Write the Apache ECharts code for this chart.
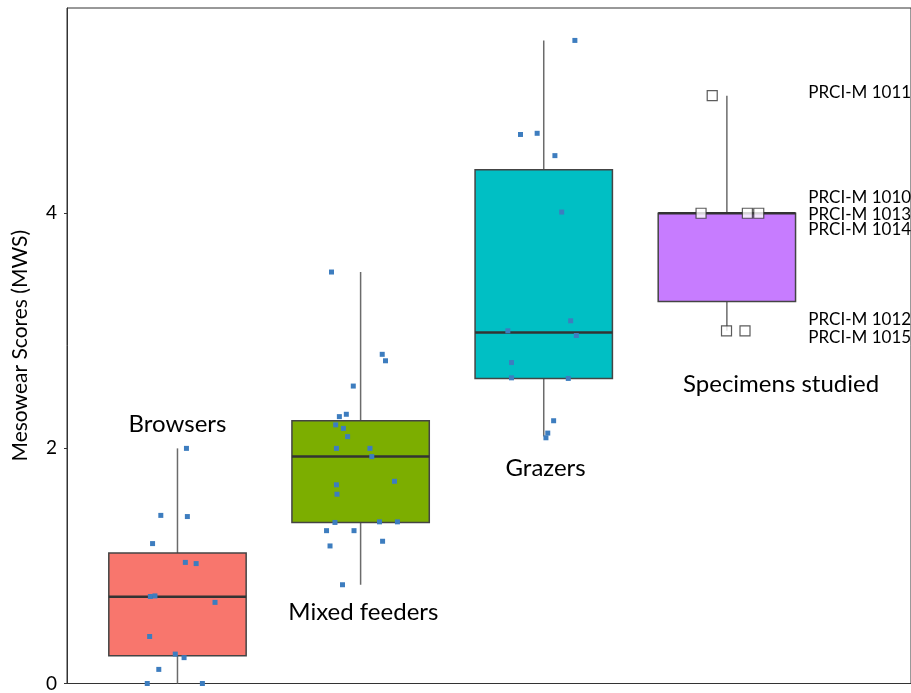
<!DOCTYPE html>
<html>
<head>
<meta charset="utf-8">
<script src="https://cdn.jsdelivr.net/npm/echarts@6/dist/echarts.min.js"></script>
<style>
  html, body { margin: 0; padding: 0; background: #fff; }
  #chart { width: 911px; height: 693px; }
</style>
</head>
<body>
<div id="chart"></div>
<script>
// Diet groups, in axis order (1..4)
const categories = ['Browsers', 'Mixed feeders', 'Grazers', 'Specimens studied'];

// Box summaries: [lower whisker, Q1, median, Q3, upper whisker]
const browsersBox  = [0.00, 0.235, 0.737, 1.11, 2.00];
const mixedBox     = [0.84, 1.37, 1.93, 2.235, 3.50];
const grazersBox   = [2.10, 2.595, 2.985, 4.37, 5.47];
const specimensBox = [3.00, 3.25, 4.00, 4.00, 5.00];

// Individual species mesowear scores and their horizontal jitter
const browsersScores  = [2.00, 1.43, 1.42, 1.19, 1.03, 1.02, 0.74, 0.745, 0.69, 0.40, 0.25, 0.22, 0.12, 0.00, 0.00];
const browsersJitter  = [0.049, -0.091, 0.054, -0.136, 0.043, 0.102, -0.148, -0.123, 0.205, -0.152, -0.012, 0.036, -0.102, -0.165, 0.136];

const mixedScores = [3.50, 2.80, 2.745, 2.53, 2.29, 2.27, 2.20, 2.17, 2.10, 2.00, 2.00, 1.93, 1.72, 1.69, 1.61, 1.37, 1.375, 1.375, 1.30, 1.30, 1.21, 1.17, 0.84];
const mixedJitter = [-0.159, 0.118, 0.136, -0.040, -0.078, -0.116, -0.136, -0.094, -0.071, -0.132, 0.051, 0.061, 0.185, -0.132, -0.129, -0.140, 0.103, 0.201, -0.186, -0.036, 0.120, -0.167, -0.099];

const grazersScores = [5.47, 4.67, 4.68, 4.49, 4.01, 3.085, 3.00, 2.96, 2.73, 2.60, 2.595, 2.235, 2.13, 2.09];
const grazersJitter = [0.170, -0.127, -0.036, 0.061, 0.098, 0.147, -0.196, 0.178, -0.176, -0.176, 0.134, 0.054, 0.022, 0.012];

// Fossil specimens
const specimenIds    = ['PRCI-M 1011', 'PRCI-M 1010', 'PRCI-M 1013', 'PRCI-M 1014', 'PRCI-M 1012', 'PRCI-M 1015'];
const specimenScores = [5.0, 4.0, 4.0, 4.0, 3.0, 3.0];
const specimenJitter = [-0.080, -0.141, 0.112, 0.174, -0.002, 0.099];

// Y-axis ticks
const yTicks = [0, 2, 4];

const groupColors = ['#F8766D', '#7CAE00', '#00BFC4', '#C77CFF'];
const FONT = 'Lato, "Open Sans", sans-serif';

const boxes = [browsersBox, mixedBox, grazersBox, specimensBox];
const boxData = boxes.map((b, i) => [i + 1].concat(b));

function jittered(scores, jitter, pos) {
  return scores.map((v, i) => [pos + jitter[i], v]);
}

const BOX_HALF = 0.375;
// vertical nudges (px) that keep the stacked catalogue numbers apart
const ID_NUDGE = [-3, -16, 1, 16, -11, 7];

const chart = echarts.init(document.getElementById('chart'), null, { renderer: 'canvas' });

const option = {
  animation: false,
  backgroundColor: '#ffffff',
  grid: {
    left: 67, top: 8, right: -4, bottom: 7,
    show: true, borderColor: '#333', borderWidth: 1, backgroundColor: 'transparent'
  },
  xAxis: {
    type: 'value',
    min: 73 / 184,
    max: 921 / 184,
    axisLine: { show: false },
    axisTick: { show: false },
    axisLabel: { show: false },
    splitLine: { show: false }
  },
  yAxis: {
    type: 'value',
    min: 0,
    max: 678 / 118,
    name: 'Mesowear Scores (MWS)',
    nameLocation: 'middle',
    nameGap: 36,
    nameTextStyle: { fontFamily: FONT, fontSize: 21, color: '#000' },
    axisLine: { show: true, lineStyle: { color: '#333', width: 1 } },
    axisTick: { show: true, length: 3, customValues: yTicks, lineStyle: { color: '#333' } },
    axisLabel: { customValues: yTicks, fontFamily: FONT, fontSize: 19, color: '#000', margin: 10 },
    splitLine: { show: false }
  },
  series: [
    {
      type: 'custom',
      name: 'boxes',
      data: boxData,
      encode: { x: 0, y: [1, 2, 3, 4, 5] },
      renderItem: function (params, api) {
        const x = api.value(0);
        const lo = api.coord([x, api.value(1)]);
        const q1 = api.coord([x, api.value(2)]);
        const med = api.coord([x, api.value(3)]);
        const q3 = api.coord([x, api.value(4)]);
        const hi = api.coord([x, api.value(5)]);
        const left = api.coord([x - BOX_HALF, 0])[0];
        const right = api.coord([x + BOX_HALF, 0])[0];
        const color = groupColors[params.dataIndex];
        return {
          type: 'group',
          children: [
            { type: 'line', shape: { x1: lo[0], y1: lo[1], x2: hi[0], y2: hi[1] },
              style: { stroke: '#6b6b6b', lineWidth: 1.5 } },
            { type: 'rect', shape: { x: left, y: q3[1], width: right - left, height: q1[1] - q3[1] },
              style: { fill: color, stroke: '#444', lineWidth: 1.5 } },
            { type: 'line', shape: { x1: left, y1: med[1], x2: right, y2: med[1] },
              style: { stroke: '#333', lineWidth: 2.5 } }
          ]
        };
      },
      z: 1
    },
    {
      type: 'scatter',
      name: 'species',
      symbol: 'rect',
      symbolSize: 5,
      itemStyle: { color: '#3d7dbf', opacity: 1 },
      data: [].concat(
        jittered(browsersScores, browsersJitter, 1),
        jittered(mixedScores, mixedJitter, 2),
        jittered(grazersScores, grazersJitter, 3)
      ),
      z: 3
    },
    {
      type: 'scatter',
      name: 'specimens',
      symbol: 'rect',
      symbolSize: 10,
      itemStyle: { color: '#ffffff', borderColor: '#333', borderWidth: 1.2 },
      data: jittered(specimenScores, specimenJitter, 4),
      z: 4
    },
    {
      // Specimen catalogue numbers, stacked beside the box
      type: 'custom',
      name: 'specimen ids',
      data: specimenScores.map((v) => [4.445, v]),
      renderItem: function (params, api) {
        const p = api.coord([api.value(0), api.value(1)]);
        return {
          type: 'text',
          x: p[0], y: p[1] + ID_NUDGE[params.dataIndex],
          style: {
            text: specimenIds[params.dataIndex],
            fontFamily: FONT, fontSize: 17, fill: '#000',
            align: 'left', verticalAlign: 'middle'
          }
        };
      },
      silent: true,
      z: 5
    },
    {
      // Group names
      type: 'custom',
      name: 'group names',
      data: [[1.0, 2.205], [2.015, 0.605], [3.01, 1.835], [4.296, 2.545]],
      renderItem: function (params, api) {
        const p = api.coord([api.value(0), api.value(1)]);
        return {
          type: 'text',
          x: p[0], y: p[1],
          style: {
            text: categories[params.dataIndex],
            fontFamily: FONT, fontSize: 24, fill: '#000',
            align: 'center', verticalAlign: 'middle'
          }
        };
      },
      silent: true,
      z: 5
    }
  ]
};

chart.setOption(option);
</script>
</body>
</html>
